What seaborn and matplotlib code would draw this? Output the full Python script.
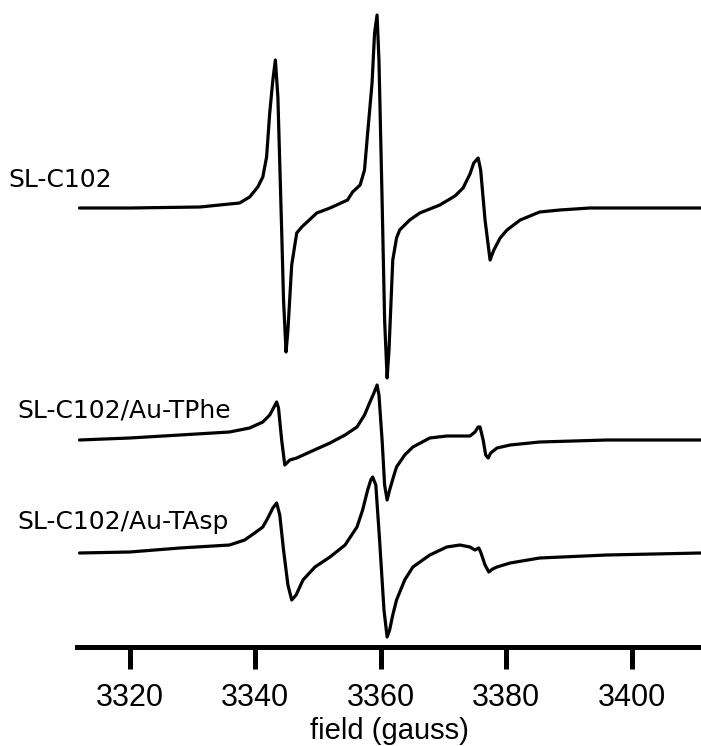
import matplotlib
matplotlib.use("Agg")
import matplotlib.pyplot as plt
import seaborn as sns
import pandas as pd

# ---- data (field in gauss, signal in arbitrary units) ----
field_1 = [3312.0, 3320.0, 3331.2, 3335.9, 3337.5, 3339.1, 3340.4, 3341.2, 3341.8, 3342.3,
           3342.8, 3343.2, 3343.6, 3344.2, 3344.5, 3344.9, 3345.2, 3345.8, 3346.6, 3347.4,
           3349.8, 3351.9, 3354.7, 3355.5, 3356.7, 3357.4, 3357.9, 3358.6, 3359.0, 3359.4,
           3359.7, 3360.2, 3360.6, 3361.0, 3361.3, 3361.9, 3362.5, 3363.0, 3364.6, 3366.2,
           3369.4, 3371.8, 3373.1, 3374.2, 3374.8, 3375.5, 3375.9, 3376.6, 3377.4, 3378.0,
           3379.0, 3380.1, 3382.2, 3385.3, 3388.5, 3393.3, 3402.9, 3411.0]
signal_1 = [447, 447, 448, 451, 452, 458, 468, 478, 498, 542,
            575, 595, 558, 425, 355, 303, 325, 390, 422, 428,
            442, 447, 455, 463, 470, 485, 522, 572, 622, 640,
            595, 455, 335, 277, 305, 395, 417, 425, 435, 442,
            450, 459, 467, 481, 492, 497, 485, 435, 395, 405,
            417, 425, 435, 443, 445, 447, 447, 447]

field_2 = [3312.0, 3320.0, 3328.0, 3335.9, 3339.1, 3341.2, 3342.3, 3342.9, 3343.4, 3343.7,
           3344.2, 3344.7, 3345.5, 3346.6, 3348.7, 3351.9, 3354.3, 3356.2, 3357.4, 3358.2,
           3358.9, 3359.4, 3359.7, 3360.2, 3360.6, 3361.0, 3361.4, 3362.1, 3362.5, 3363.8,
           3365.1, 3367.8, 3370.5, 3373.1, 3374.2, 3375.0, 3375.5, 3375.8, 3376.3, 3376.7,
           3377.1, 3377.5, 3378.5, 3380.6, 3385.3, 3396.0, 3411.0]
signal_2 = [215, 217, 220, 223, 227, 233, 240, 247, 253, 247,
            215, 190, 195, 197, 203, 212, 220, 228, 240, 252,
            262, 270, 260, 215, 170, 155, 165, 180, 188, 200,
            208, 217, 219, 219, 219, 223, 228, 228, 215, 200,
            197, 202, 207, 210, 213, 215, 215]

field_3 = [3312.0, 3320.0, 3328.0, 3335.9, 3338.3, 3339.9, 3341.2, 3342.0, 3342.8, 3343.4,
           3343.9, 3344.5, 3345.2, 3345.8, 3346.5, 3347.6, 3349.5, 3351.9, 3354.3, 3356.2,
           3357.1, 3357.9, 3358.4, 3358.7, 3359.2, 3359.8, 3360.5, 3361.0, 3361.4, 3361.9,
           3362.5, 3363.8, 3365.1, 3367.8, 3370.5, 3372.6, 3374.2, 3375.0, 3375.6, 3375.9,
           3376.6, 3377.2, 3377.8, 3378.5, 3380.6, 3385.3, 3396.0, 3411.0]
signal_3 = [102, 103, 107, 110, 115, 122, 128, 137, 147, 152,
            140, 105, 70, 55, 60, 75, 88, 98, 110, 128,
            145, 165, 175, 178, 170, 115, 45, 18, 25, 40,
            55, 75, 88, 100, 108, 110, 108, 105, 107, 103,
            90, 83, 86, 88, 92, 97, 100, 102]

labels = ["SL-C102", "SL-C102/Au-TPhe", "SL-C102/Au-TAsp"]
xticks = [3320, 3340, 3360, 3380, 3400]
xlabel = "field (gauss)"

# ---- build tidy frame ----
frames = []
for lab, f, s in zip(labels, [field_1, field_2, field_3], [signal_1, signal_2, signal_3]):
    frames.append(pd.DataFrame({"field": f, "signal": s, "sample": lab}))
df = pd.concat(frames, ignore_index=True)

sns.set_style("white")
plt.rcParams["font.family"] = ["Liberation Sans", "DejaVu Sans"]
plt.rcParams["text.color"] = "black"
plt.rcParams["axes.labelcolor"] = "black"
plt.rcParams["xtick.color"] = "black"

fig = plt.figure(figsize=(7.01, 7.46), dpi=100)
ax = fig.add_axes([77 / 701, 99 / 746, 1 - 77 / 701, 1 - 99 / 746])

sns.lineplot(data=df, x="field", y="signal", units="sample", estimator=None,
             sort=False, color="black", linewidth=2.3, ax=ax, legend=False)

ax.set_xlim(3311.6, 3411.0)
ax.set_ylim(8, 655)
ax.set_yticks([])
ax.set_xticks(xticks)
ax.set_xticklabels([str(t) for t in xticks], fontsize=22)
ax.tick_params(axis="x", bottom=True, direction="out", length=16, width=3.6,
               pad=10, color="black", labelcolor="black")
ax.set_xlabel(xlabel, fontsize=21, labelpad=3, color="black")
ax.set_ylabel("")

for side in ["top", "right", "left"]:
    ax.spines[side].set_visible(False)
ax.spines["bottom"].set_linewidth(3.6)
ax.spines["bottom"].set_color("black")
ax.patch.set_alpha(0)

# sample labels (figure pixel positions)
lab_font = ["DejaVu Sans"]
fig.text(8 / 701, 1 - 180 / 746, labels[0], fontsize=18, va="center", ha="left",
         family=lab_font, color="black")
fig.text(17 / 701, 1 - 410 / 746, labels[1], fontsize=18, va="center", ha="left",
         family=lab_font, color="black")
fig.text(17 / 701, 1 - 522 / 746, labels[2], fontsize=18, va="center", ha="left",
         family=lab_font, color="black")

fig.savefig("out.png", dpi=100)
